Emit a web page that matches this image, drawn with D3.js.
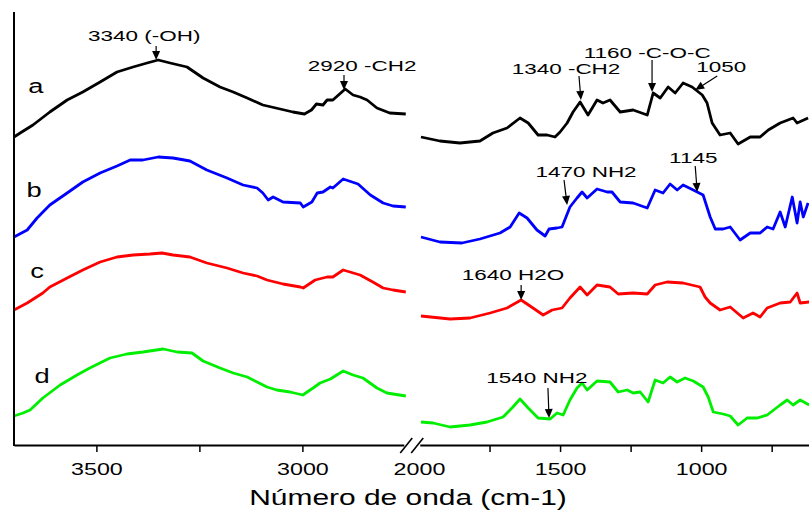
<!DOCTYPE html>
<html>
<head>
<meta charset="utf-8">
<script src="https://cdn.jsdelivr.net/npm/d3@7"></script>
<style>
  body { margin: 0; background: #fff; }
  svg text { font-family: "Liberation Sans", Arial, sans-serif; fill: #000; }
</style>
</head>
<body>
<svg id="chart"></svg>
<script>
// FTIR spectra, broken wavenumber axis. [wavenumber, offset intensity]
const aLeft = [[3700,308],[3685,312],[3654,320],[3613,333],[3571,345],[3533,353],[3491,363],[3450,373],[3411,378],[3377,382],[3350,385],[3321,382],[3280,378],[3241,367],[3200,358],[3168,353],[3134,347],[3096,340],[3054,336],[3023,333],[2995,331],[2978,335],[2966,341],[2950,340],[2940,345],[2926,345],[2896,356],[2877,350],[2860,348],[2843,345],[2819,337],[2788,332],[2749,331]];
const aRight = [[1993,308],[1926,304],[1855,302],[1784,304],[1738,312],[1688,317],[1642,327],[1613,322],[1578,310],[1546,310],[1518,308],[1500,313],[1475,322],[1454,333],[1429,343],[1401,330],[1369,345],[1348,342],[1323,345],[1287,333],[1241,335],[1191,330],[1170,352],[1145,347],[1117,358],[1092,352],[1064,362],[1032,358],[996,350],[979,342],[961,322],[933,310],[897,312],[869,301],[826,308],[791,308],[762,315],[720,322],[674,327],[660,322],[621,327]];

const bLeft = [[3700,208],[3668,215],[3644,227],[3613,240],[3571,252],[3533,263],[3491,272],[3450,279],[3418,285],[3387,285],[3350,288],[3314,287],[3273,284],[3232,275],[3183,267],[3144,260],[3110,257],[3096,252],[3083,245],[3071,248],[3047,243],[3005,242],[2998,238],[2977,243],[2964,252],[2950,253],[2932,258],[2926,257],[2901,266],[2865,261],[2835,250],[2804,242],[2780,239],[2749,238]];
const bRight = [[1993,208],[1926,203],[1848,202],[1784,206],[1713,212],[1677,218],[1645,232],[1617,227],[1582,215],[1553,209],[1539,216],[1511,217],[1493,218],[1465,238],[1440,247],[1422,253],[1404,247],[1369,256],[1333,253],[1316,253],[1287,243],[1241,242],[1191,237],[1163,255],[1135,252],[1110,261],[1085,255],[1064,260],[1028,255],[993,250],[968,228],[950,216],[922,216],[897,218],[862,205],[826,212],[791,212],[766,218],[745,216],[720,233],[702,218],[677,248],[660,222],[649,243],[638,228],[621,242]];

const cLeft = [[3700,135],[3668,142],[3630,152],[3613,158],[3571,167],[3533,175],[3491,183],[3450,188],[3411,190],[3370,191],[3341,192],[3314,190],[3273,188],[3232,182],[3183,177],[3144,172],[3110,169],[3086,165],[3047,161],[3005,158],[2998,157],[2969,165],[2940,168],[2926,168],[2901,175],[2860,170],[2829,163],[2804,157],[2780,155],[2749,153]];
const cRight = [[1993,129],[1890,126],[1819,127],[1748,132],[1688,137],[1638,145],[1596,137],[1560,130],[1528,135],[1493,137],[1465,147],[1429,158],[1404,150],[1369,160],[1323,158],[1294,151],[1241,152],[1191,151],[1163,160],[1121,163],[1064,162],[1004,158],[986,148],[968,142],[933,135],[897,138],[851,127],[816,132],[791,128],[766,137],[720,142],[684,143],[660,152],[649,142],[617,143]];

const dLeft = [[3700,29],[3678,32],[3661,35],[3630,47],[3588,60],[3547,70],[3516,77],[3467,87],[3426,91],[3387,93],[3338,96],[3304,93],[3268,92],[3241,84],[3200,77],[3168,72],[3134,68],[3110,63],[3086,58],[3062,55],[3030,53],[2999,50],[2974,57],[2957,62],[2932,66],[2901,74],[2877,70],[2853,67],[2819,57],[2795,52],[2749,49]];
const dRight = [[1993,23],[1950,22],[1890,18],[1819,20],[1759,23],[1702,28],[1667,38],[1642,46],[1613,37],[1578,27],[1535,26],[1511,32],[1489,30],[1465,45],[1440,57],[1422,62],[1404,55],[1369,64],[1323,63],[1294,53],[1262,55],[1241,52],[1216,53],[1188,43],[1163,65],[1135,62],[1110,68],[1085,63],[1057,67],[1028,64],[993,58],[975,48],[957,33],[922,31],[897,29],[869,20],[837,27],[801,27],[766,30],[720,40],[695,45],[674,40],[649,45],[617,40]];

const seriesNames = ['a', 'b', 'c', 'd'];
const seriesColors = ['#000000', '#0000ff', '#ff0000', '#00ee00'];
const seriesLabelPos = [[3647, 352], [3651, 248], [3644, 167], [3632, 62]];

const leftTicks = [3500, 3250, 3000];
const rightTicks = [2000, 1750, 1500, 1250, 1000, 750];
const labeledTicks = [3500, 3000, 2000, 1500, 1000];

// annotations: text, side, [text wn, baseline], [arrow tail], [arrow tip]
const annotations = [
  { text: '3340 (-OH)', side: 'L', t: [3384, 404], from: [3355, 399], to: [3355, 385] },
  { text: '2920 -CH2', side: 'L', t: [2855, 374], from: [2899, 370], to: [2899, 355] },
  { text: '1340 -CH2', side: 'R', t: [1479, 371], from: [1433, 369], to: [1426, 345] },
  { text: '1160 -C-O-C', side: 'R', t: [1191, 387], from: [1174, 385], to: [1174, 353] },
  { text: '1050', side: 'R', t: [929, 373], from: [943, 369], to: [1021, 355] },
  { text: '1470 NH2', side: 'R', t: [1408, 268], from: [1486, 265], to: [1475, 240] },
  { text: '1145', side: 'R', t: [1028, 282], from: [1021, 279], to: [1014, 253] },
  { text: '1640 H2O', side: 'R', t: [1667, 165], from: [1638, 160], to: [1638, 145] },
  { text: '1540 NH2', side: 'R', t: [1582, 62], from: [1543, 57], to: [1539, 27] }
];

const config = {
  width: 809, height: 510,
  x0: 14, breakL: 409.5, breakR: 419, x1: 814,
  top: 12, axisY: 445,
  sx: 1.37
};

const svg = d3.select('#chart')
  .attr('width', config.width)
  .attr('height', config.height);

const xL = d3.scaleLinear().domain([3700, 2740]).range([config.x0, config.breakL]);
const xR = d3.scaleLinear().domain([2000, 600]).range([config.breakR, config.x1]);
const y = d3.scaleLinear().domain([0, config.axisY - config.top]).range([config.axisY, config.top]);

const lineL = d3.line().x(d => xL(d[0])).y(d => y(d[1]));
const lineR = d3.line().x(d => xR(d[0])).y(d => y(d[1]));

const curves = [[aLeft, aRight], [bLeft, bRight], [cLeft, cRight], [dLeft, dRight]];

curves.forEach((c, i) => {
  svg.append('path').datum(c[0])
    .attr('d', lineL)
    .attr('fill', 'none')
    .attr('stroke', seriesColors[i])
    .attr('stroke-width', 2.8)
    .attr('stroke-linejoin', 'round');
  svg.append('path').datum(c[1])
    .attr('d', lineR)
    .attr('fill', 'none')
    .attr('stroke', seriesColors[i])
    .attr('stroke-width', 2.8)
    .attr('stroke-linejoin', 'round');
});

// series letters
svg.selectAll('.series-label')
  .data(seriesNames)
  .join('text')
  .attr('class', 'series-label')
  .attr('text-anchor', 'middle')
  .style('font-size', '21px')
  .attr('transform', (d, i) => `translate(${xL(seriesLabelPos[i][0])},${y(seriesLabelPos[i][1])}) scale(1.3,1)`)
  .text(d => d);

// axes
const fmt = d => labeledTicks.includes(d) ? d : '';

const axL = svg.append('g')
  .attr('transform', `translate(0,${config.axisY})`)
  .call(d3.axisBottom(xL).tickValues(leftTicks).tickFormat(fmt).tickSize(7).tickSizeOuter(0));
const axR = svg.append('g')
  .attr('transform', `translate(0,${config.axisY})`)
  .call(d3.axisBottom(xR).tickValues(rightTicks).tickFormat(fmt).tickSize(7).tickSizeOuter(0));

[axL, axR].forEach(ax => {
  ax.select('.domain').attr('stroke-width', 2);
  ax.selectAll('.tick line').attr('stroke-width', 1.5);
  ax.selectAll('.tick text')
    .attr('y', 30).attr('dy', null)
    .style('font-size', '17px')
    .style('font-family', '"Liberation Sans", Arial, sans-serif')
    .attr('fill', '#000')
    .attr('transform', `scale(${config.sx},1)`);
});
axR.selectAll('.tick').filter(d => d === 2000).select('line').remove();

// left axis line
svg.append('line')
  .attr('x1', config.x0).attr('x2', config.x0)
  .attr('y1', config.top).attr('y2', config.axisY + 1)
  .attr('stroke', '#000').attr('stroke-width', 2);

// break marks
const bx = (config.breakL + config.breakR) / 2;
svg.append('rect')
  .attr('x', bx - 10).attr('y', config.axisY - 3)
  .attr('width', 16).attr('height', 6)
  .attr('fill', '#fff');
[-8, 3].forEach(off => {
  svg.append('line')
    .attr('x1', bx + off - 6).attr('y1', config.axisY + 8)
    .attr('x2', bx + off + 6).attr('y2', config.axisY - 7)
    .attr('stroke', '#000').attr('stroke-width', 1.6);
});

// x title
svg.append('text')
  .attr('text-anchor', 'middle')
  .style('font-size', '22px')
  .attr('transform', `translate(408,505) scale(1.36,1)`)
  .text('Número de onda (cm-1)');

// annotations
const ax = (side, w) => side === 'L' ? xL(w) : xR(w);
annotations.forEach(a => {
  const g = svg.append('g');
  g.append('text')
    .attr('text-anchor', 'middle')
    .style('font-size', '15.5px')
    .attr('transform', `translate(${ax(a.side, a.t[0])},${y(a.t[1])}) scale(1.45,1)`)
    .text(a.text);
  const x1 = ax(a.side, a.from[0]), y1 = y(a.from[1]);
  const x2 = ax(a.side, a.to[0]), y2 = y(a.to[1]);
  const ang = Math.atan2(y2 - y1, x2 - x1);
  const hl = 9, hw = 4;
  const bxh = x2 - hl * Math.cos(ang), byh = y2 - hl * Math.sin(ang);
  g.append('line')
    .attr('x1', x1).attr('y1', y1).attr('x2', bxh).attr('y2', byh)
    .attr('stroke', '#000').attr('stroke-width', 1.2);
  const px = -Math.sin(ang) * hw, py = Math.cos(ang) * hw;
  g.append('path')
    .attr('d', `M${x2},${y2}L${bxh + px},${byh + py}L${bxh - px},${byh - py}Z`)
    .attr('fill', '#000');
});
</script>
</body>
</html>
